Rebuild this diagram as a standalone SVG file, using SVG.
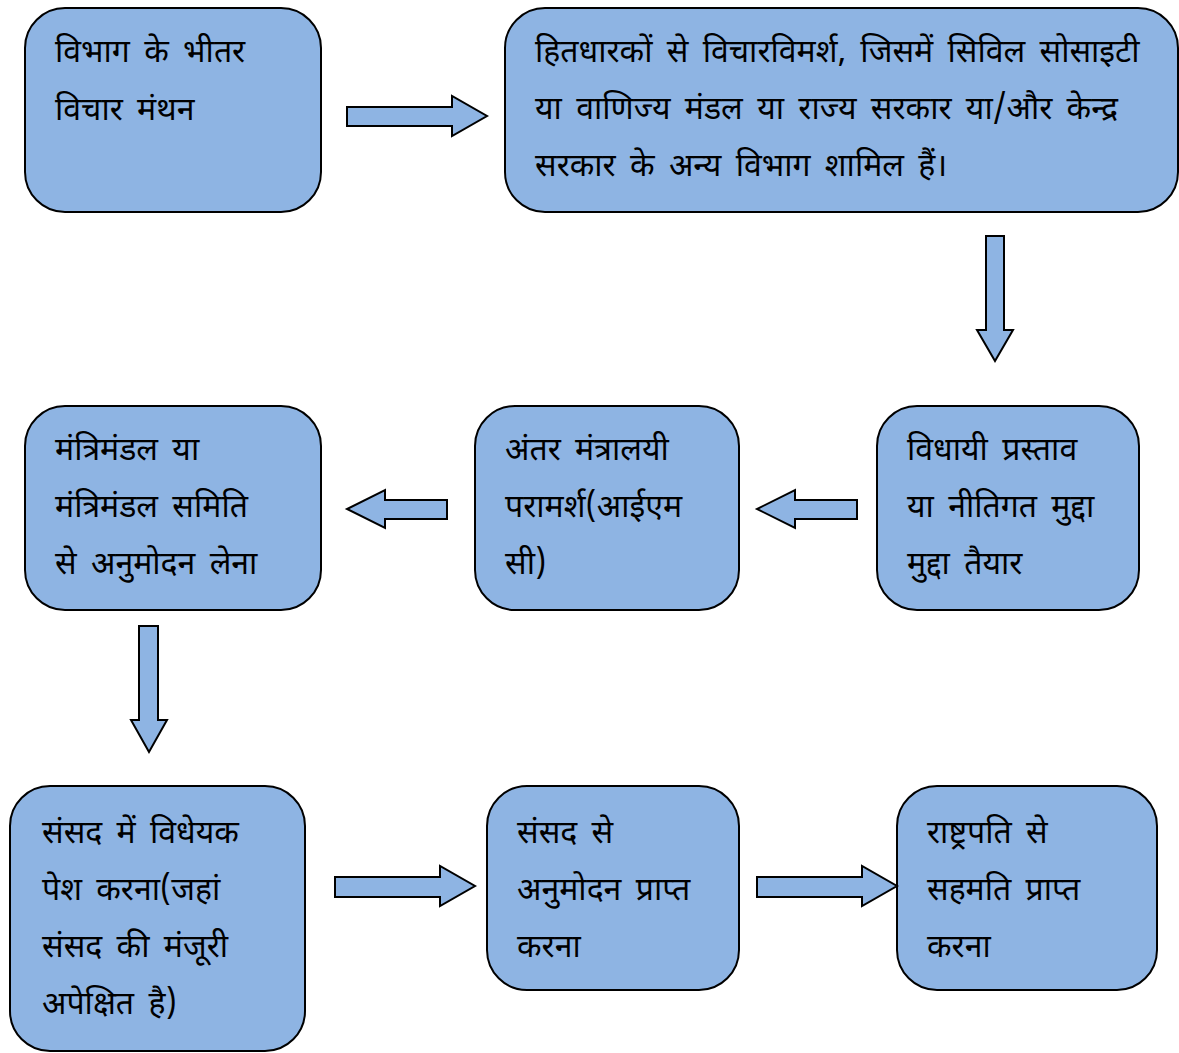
<svg xmlns="http://www.w3.org/2000/svg" width="1179" height="1053" viewBox="0 0 1179 1053">
  <style>
    .box { fill: #8EB4E3; stroke: #000; stroke-width: 2; }
    .arrow { fill: #8EB4E3; stroke: #000; stroke-width: 2; stroke-linejoin: miter; }
    text { font-family: "Noto Sans Devanagari", "Lohit Devanagari", "Noto Sans", "DejaVu Sans", sans-serif; font-size: 32px; word-spacing: 6px; fill: #000; }
  </style>
  <rect width="1179" height="1053" fill="#fff"/>

  <!-- process boxes -->
  <g id="n1">
    <rect class="box" x="25" y="8" width="296" height="204" rx="40"/>
    <text x="55" y="62">विभाग के भीतर</text>
    <text x="55" y="120">विचार मंथन</text>
  </g>
  <g id="n2">
    <rect class="box" x="505" y="8" width="673" height="204" rx="40"/>
    <text x="535" y="62">हितधारकों से विचारविमर्श, जिसमें सिविल सोसाइटी</text>
    <text x="535" y="119">या वाणिज्य मंडल या राज्य सरकार या/और केन्द्र</text>
    <text x="535" y="176">सरकार के अन्य विभाग शामिल हैं।</text>
  </g>
  <g id="n3">
    <rect class="box" x="877" y="406" width="262" height="204" rx="40"/>
    <text x="907" y="460">विधायी प्रस्ताव</text>
    <text x="907" y="517">या नीतिगत मुद्दा</text>
    <text x="907" y="574">मुद्दा तैयार</text>
  </g>
  <g id="n4">
    <rect class="box" x="475" y="406" width="264" height="204" rx="40"/>
    <text x="505" y="460">अंतर मंत्रालयी</text>
    <text x="505" y="517">परामर्श(आईएम</text>
    <text x="505" y="574">सी)</text>
  </g>
  <g id="n5">
    <rect class="box" x="25" y="406" width="296" height="204" rx="40"/>
    <text x="55" y="460">मंत्रिमंडल या</text>
    <text x="55" y="517">मंत्रिमंडल समिति</text>
    <text x="55" y="574">से अनुमोदन लेना</text>
  </g>
  <g id="n6">
    <rect class="box" x="10" y="786" width="295" height="265" rx="40"/>
    <text x="42" y="843">संसद में विधेयक</text>
    <text x="42" y="900">पेश करना(जहां</text>
    <text x="42" y="957">संसद की मंजूरी</text>
    <text x="42" y="1014">अपेक्षित है)</text>
  </g>
  <g id="n7">
    <rect class="box" x="487" y="786" width="252" height="204" rx="40"/>
    <text x="517" y="843">संसद से</text>
    <text x="517" y="900">अनुमोदन प्राप्त</text>
    <text x="517" y="957">करना</text>
  </g>
  <g id="n8">
    <rect class="box" x="897" y="786" width="260" height="204" rx="40"/>
    <text x="927" y="843">राष्ट्रपति से</text>
    <text x="927" y="900">सहमति प्राप्त</text>
    <text x="927" y="957">करना</text>
  </g>

  <!-- block arrows between steps -->
  <g id="connectors">
    <polygon class="arrow" points="347,107 452,107 452,96 487,116 452,136 452,126 347,126"/>
    <polygon class="arrow" points="986,236 1004,236 1004,330 1013,330 995,361 977,330 986,330"/>
    <polygon class="arrow" points="857,500 795,500 795,490 757,509 795,528 795,519 857,519"/>
    <polygon class="arrow" points="447,500 385,500 385,490 347,509 385,528 385,519 447,519"/>
    <polygon class="arrow" points="139,626 158,626 158,720 167,720 149,752 131,720 139,720"/>
    <polygon class="arrow" points="335,877 440,877 440,866 475,886 440,906 440,897 335,897"/>
    <polygon class="arrow" points="757,877 862,877 862,866 897,886 862,906 862,897 757,897"/>
  </g>
</svg>
